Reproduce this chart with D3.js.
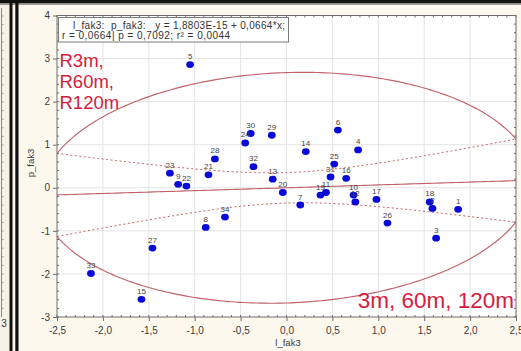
<!DOCTYPE html>
<html>
<head>
<meta charset="utf-8">
<script src="https://cdn.jsdelivr.net/npm/d3@7/dist/d3.min.js"></script>
<style>
  body { margin: 0; background: #fcf8ee; }
  svg { display: block; font-family: "Liberation Sans", Arial, sans-serif; }
  .pre { white-space: pre; }
</style>
</head>
<body>
<svg id="chart" width="521" height="351"></svg>
<script>
// Observation ids and factor scores (l_fak3 on x, p_fak3 on y)
const ids = [1,2,3,4,5,6,7,8,9,10,11,12,13,14,15,16,17,18,19,20,21,22,23,24,25,26,27,28,29,30,31,32,33,34];
const lFak3 = [1.87,1.59,1.63,0.78,-1.05,0.56,0.15,-0.88,-1.18,0.73,0.43,0.75,-0.15,0.21,-1.58,0.65,0.98,1.56,0.37,-0.04,-0.85,-1.09,-1.27,-0.45,0.52,1.10,-1.46,-0.78,-0.16,-0.39,0.48,-0.36,-2.13,-0.67];
const pFak3 = [-0.50,-0.48,-1.17,0.88,2.86,1.34,-0.40,-0.92,0.08,-0.17,-0.11,-0.33,0.20,0.84,-2.59,0.22,-0.27,-0.33,-0.17,-0.11,0.30,0.04,0.34,1.04,0.55,-0.82,-1.40,0.67,1.22,1.26,0.25,0.49,-1.99,-0.68];

// Regression results
const intercept = 1.8803e-15;
const slope = 0.0664;
const rCoef = 0.0664;
const nObs = 34;
const tCrit = 2.0369;      // t(0.975, n-2)
const ellipseScale = 2.68; // 95% ellipse radius in sd units

// Axis ticks
const xTicks = [-2.5,-2.0,-1.5,-1.0,-0.5,0.0,0.5,1.0,1.5,2.0,2.5];
const yTicks = [-3,-2,-1,0,1,2,3,4];

const legendLines = ["l_fak3:  p_fak3:   y = 1,8803E-15 + 0,0664*x;", "r = 0,0664| p = 0,7092; r² = 0,0044"];
const groupLeft = ["R3m,", "R60m,", "R120m"];
const groupRight = "3m, 60m, 120m";

const svg = d3.select("#chart");
const W = 521, H = 351;
const plot = {left: 57, right: 516, top: 15.5, bottom: 317};

const x = d3.scaleLinear().domain([-2.5, 2.5]).range([plot.left, plot.right]);
const y = d3.scaleLinear().domain([-3, 4]).range([plot.bottom, plot.top]);

const comma = v => d3.format(".1f")(v).replace(".", ",").replace("−", "-");

// panel background and frame pieces
svg.append("rect").attr("width", W).attr("height", H).attr("fill", "#fcf8ee");
// sliver of the neighbouring panel
svg.append("rect").attr("x", 0).attr("y", 0).attr("width", 10).attr("height", H).attr("fill", "#f6f2e8");
svg.append("line").attr("x1", 1.5).attr("x2", 1.5).attr("y1", 8).attr("y2", 317).attr("stroke", "#8a8a8a");
d3.range(16, 317, 8.6).forEach(v => {
  svg.append("line").attr("x1", 1.5).attr("x2", 3.5).attr("y1", v).attr("y2", v).attr("stroke", "#999");
});
svg.append("text").attr("x", 4).attr("y", 327).attr("font-size", 10).attr("fill", "#333").attr("text-anchor", "middle").text("3");
svg.append("rect").attr("x", 0).attr("y", 0).attr("width", W).attr("height", 3.5).attr("fill", "#111");
svg.append("rect").attr("x", 0).attr("y", 3.5).attr("width", W).attr("height", 1.5).attr("fill", "#9a9a9a");
svg.append("rect").attr("x", 9.5).attr("y", 0).attr("width", 3).attr("height", H).attr("fill", "#111");
svg.append("rect").attr("x", 15.3).attr("y", 0).attr("width", 3.2).attr("height", H).attr("fill", "#111");

// plot area
svg.append("rect").attr("x", plot.left).attr("y", plot.top)
  .attr("width", plot.right - plot.left).attr("height", plot.bottom - plot.top).attr("fill", "#fff");

// grid
const grid = svg.append("g").attr("stroke", "#e4e4e4").attr("stroke-width", 1);
xTicks.slice(1, -1).forEach(v => grid.append("line").attr("x1", x(v)).attr("x2", x(v)).attr("y1", plot.top).attr("y2", plot.bottom));
yTicks.slice(1, -1).forEach(v => grid.append("line").attr("x1", plot.left).attr("x2", plot.right).attr("y1", y(v)).attr("y2", y(v)));

svg.append("defs").append("clipPath").attr("id", "clip")
  .append("rect").attr("x", plot.left).attr("y", plot.top)
  .attr("width", plot.right - plot.left).attr("height", plot.bottom - plot.top);

const curves = svg.append("g").attr("clip-path", "url(#clip)");
const lineColor = "#c2626a";

// 95% ellipse around the means
const ts = d3.range(0, 2 * Math.PI + 0.001, Math.PI / 180);
const ellPts = ts.map(t => [ellipseScale * Math.cos(t),
  ellipseScale * (rCoef * Math.cos(t) + Math.sqrt(1 - rCoef * rCoef) * Math.sin(t))]);
curves.append("path").attr("d", d3.line().x(d => x(d[0])).y(d => y(d[1]))(ellPts))
  .attr("fill", "none").attr("stroke", lineColor).attr("stroke-width", 1.15);

// regression line and 95% confidence band
const s = Math.sqrt((1 - rCoef * rCoef) * (nObs - 1) / (nObs - 2));
const sxx = nObs - 1;
const xs = d3.range(-2.5, 2.5001, 0.05);
const fit = v => intercept + slope * v;
const half = v => tCrit * s * Math.sqrt(1 / nObs + v * v / sxx);
const ln = d3.line().x(d => x(d[0])).y(d => y(d[1]));
curves.append("path").attr("d", ln(xs.map(v => [v, fit(v)])))
  .attr("fill", "none").attr("stroke", lineColor).attr("stroke-width", 1.15);
[1, -1].forEach(sg => {
  curves.append("path").attr("d", ln(xs.map(v => [v, fit(v) + sg * half(v)])))
    .attr("fill", "none").attr("stroke", lineColor).attr("stroke-width", 1)
    .attr("stroke-dasharray", "2,2.5");
});

// frame, ticks
const frame = svg.append("g").attr("stroke", "#6e6e6e").attr("stroke-width", 1);
frame.append("rect").attr("x", plot.left).attr("y", plot.top)
  .attr("width", plot.right - plot.left).attr("height", plot.bottom - plot.top).attr("fill", "none");
d3.range(-2.5, 2.5001, 0.1).forEach(v => {
  frame.append("line").attr("x1", x(v)).attr("x2", x(v)).attr("y1", plot.bottom).attr("y2", plot.bottom - 2);
  frame.append("line").attr("x1", x(v)).attr("x2", x(v)).attr("y1", plot.top).attr("y2", plot.top + 2);
});
d3.range(-3, 4.001, 0.2).forEach(v => {
  frame.append("line").attr("x1", plot.left).attr("x2", plot.left + 2).attr("y1", y(v)).attr("y2", y(v));
  frame.append("line").attr("x1", plot.right).attr("x2", plot.right - 2).attr("y1", y(v)).attr("y2", y(v));
});

// axes via d3
const xAxis = svg.append("g").attr("transform", `translate(0,${plot.bottom})`)
  .call(d3.axisBottom(x).tickValues(xTicks).tickSize(4).tickFormat(comma));
const yAxis = svg.append("g").attr("transform", `translate(${plot.left},0)`)
  .call(d3.axisLeft(y).tickValues(yTicks).tickSize(4).tickFormat(d => d3.format("d")(d).replace("−", "-")));
[xAxis, yAxis].forEach(a => {
  a.select(".domain").remove();
  a.selectAll(".tick line").attr("stroke", "#6e6e6e");
  a.selectAll(".tick text").attr("fill", "#3a3a3a").attr("font-size", 10)
    .attr("font-family", "'Liberation Sans', Arial, sans-serif");
});
xAxis.selectAll(".tick text").attr("dy", "0.95em");

// axis titles
svg.append("text").attr("x", 288).attr("y", 346).attr("text-anchor", "middle")
  .attr("font-size", 9.5).attr("fill", "#3a3a3a").text("l_fak3");
svg.append("text").attr("transform", "translate(34,163) rotate(-90)").attr("text-anchor", "middle")
  .attr("font-size", 9.5).attr("fill", "#3a3a3a").text("p_fak3");

// points and their labels
const pts = ids.map((id, i) => ({id, lx: lFak3[i], py: pFak3[i]}));
svg.append("g").selectAll("ellipse").data(pts).join("ellipse")
  .attr("cx", d => x(d.lx)).attr("cy", d => y(d.py)).attr("rx", 3.9).attr("ry", 3.4)
  .attr("fill", "#0a0ad8");
svg.append("g").selectAll("text").data(pts).join("text")
  .attr("x", d => x(d.lx)).attr("y", d => y(d.py) - 5.5).attr("text-anchor", "middle")
  .attr("font-size", 8).attr("fill", "#444").text(d => d.id);

// regression summary box
svg.append("rect").attr("x", 58.5).attr("y", 17.5).attr("width", 230).attr("height", 24.5)
  .attr("fill", "#fff").attr("stroke", "#7a7a7a").attr("stroke-width", 1);
svg.append("text").attr("class", "pre").attr("x", 73).attr("y", 28.5).attr("font-size", 10)
  .attr("textLength", 212).attr("lengthAdjust", "spacing")
  .attr("fill", "#333").text(legendLines[0]);
svg.append("text").attr("class", "pre").attr("x", 62).attr("y", 39).attr("font-size", 10)
  .attr("textLength", 168).attr("lengthAdjust", "spacing")
  .attr("fill", "#333").text(legendLines[1]);

// group annotations
const red = "#d3203f";
svg.append("g").selectAll("text").data(groupLeft).join("text")
  .attr("x", 59.5).attr("y", (d, i) => 67 + i * 21.2).attr("font-size", 18.5)
  .attr("fill", red).text(d => d);
svg.append("text").attr("x", 514).attr("y", 307.5).attr("text-anchor", "end")
  .attr("font-size", 22.5).attr("fill", red).text(groupRight);
</script>
</body>
</html>
